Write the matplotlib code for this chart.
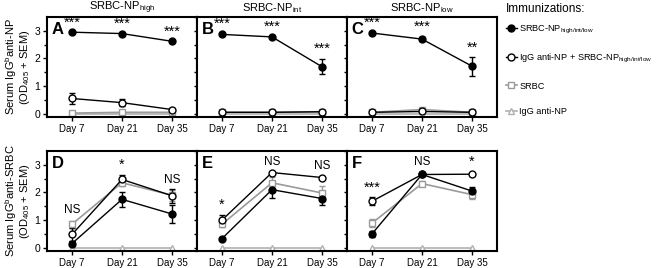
import matplotlib
matplotlib.use("Agg")
import matplotlib.pyplot as plt
from matplotlib.lines import Line2D
import numpy as np

plt.rcParams['font.family'] = ['Liberation Sans', 'DejaVu Sans']
plt.rcParams['mathtext.default'] = 'regular'

days = ["Day 7", "Day 21", "Day 35"]
panel_letters = ["A", "B", "C", "D", "E", "F"]
col_titles = ["SRBC-NP$_{high}$", "SRBC-NP$_{int}$", "SRBC-NP$_{low}$"]
series_labels = ["SRBC-NP$_{high/int/low}$", "IgG anti-NP + SRBC-NP$_{high/int/low}$",
                 "SRBC", "IgG anti-NP"]

# means per panel (A..F)
filled_mean = [[2.95, 2.90, 2.62], [2.87, 2.78, 1.70], [2.92, 2.70, 1.72],
               [0.15, 1.75, 1.22], [0.33, 2.10, 1.78], [0.50, 2.65, 2.05]]
filled_err = [[0.03, 0.03, 0.04], [0.03, 0.03, 0.28], [0.03, 0.08, 0.35],
              [0.08, 0.27, 0.33], [0.05, 0.30, 0.25], [0.10, 0.05, 0.15]]
open_mean = [[0.55, 0.40, 0.15], [0.05, 0.05, 0.07], [0.05, 0.08, 0.05],
             [0.48, 2.47, 1.88], [1.00, 2.72, 2.54], [1.68, 2.65, 2.66]]
open_err = [[0.20, 0.12, 0.04], [0.02, 0.02, 0.02], [0.02, 0.02, 0.02],
            [0.25, 0.15, 0.25], [0.20, 0.03, 0.03], [0.15, 0.05, 0.04]]
sq_mean = [[0.02, 0.05, 0.05], [0.05, 0.05, 0.07], [0.05, 0.15, 0.05],
           [0.85, 2.35, 1.90], [0.85, 2.35, 1.98], [0.89, 2.32, 1.92]]
sq_err = [[0.02, 0.03, 0.03], [0.02, 0.02, 0.02], [0.02, 0.04, 0.02],
          [0.12, 0.10, 0.20], [0.10, 0.20, 0.25], [0.15, 0.10, 0.15]]
tri_mean = [[0.0, 0.0, 0.0], [0.0, 0.0, 0.0], [0.0, 0.0, 0.0],
            [0.0, 0.0, 0.0], [0.0, 0.0, 0.0], [0.0, 0.0, 0.0]]

# significance annotations per panel: (day index, y, text)
annotations = [
    [(0, 3.05, "***"), (1, 3.00, "***"), (2, 2.72, "***")],
    [(0, 3.00, "***"), (1, 2.90, "***"), (2, 2.08, "***")],
    [(0, 3.02, "***"), (1, 2.88, "***"), (2, 2.15, "**")],
    [(0, 1.15, "NS"), (1, 2.75, "*"), (2, 2.25, "NS")],
    [(0, 1.30, "*"), (1, 2.90, "NS"), (2, 2.75, "NS")],
    [(0, 1.90, "***"), (1, 2.90, "NS"), (2, 2.85, "*")],
]

W, H = 660, 268
fig = plt.figure(figsize=(6.6, 2.68), dpi=100)

GRAY_SQ = "#9a9a9a"
GRAY_TRI = "#b0b0b0"
x = np.arange(3)

def px(l, t, w, h):
    return [l / W, 1 - (t + h) / H, w / W, h / H]

axes = []
for r in range(2):
    for c in range(3):
        top = 17 if r == 0 else 151
        ax = fig.add_axes(px(47 + 150 * c, top, 150, 100))
        axes.append(ax)

for i, ax in enumerate(axes):
    ax.errorbar(x, tri_mean[i], color=GRAY_TRI, marker="^", mfc="white", mec=GRAY_TRI,
                ms=5, lw=1.2, mew=1)
    ax.errorbar(x, sq_mean[i], yerr=sq_err[i], color=GRAY_SQ, marker="s", mfc="white",
                mec=GRAY_SQ, ms=5, lw=1.2, mew=1, capsize=2.5, elinewidth=1)
    ax.errorbar(x, open_mean[i], yerr=open_err[i], color="black", marker="o", mfc="white",
                mec="black", ms=5, lw=1, mew=1, capsize=2.5, elinewidth=1)
    ax.errorbar(x, filled_mean[i], yerr=filled_err[i], color="black", marker="o",
                mfc="black", mec="black", ms=5, lw=1, mew=1, capsize=2.5, elinewidth=1)
    ax.set_xlim(-0.5, 2.5)
    ax.set_ylim(-0.12, 3.5)
    ax.set_xticks(x)
    ax.set_xticklabels(days, fontsize=7)
    for s in ax.spines.values():
        s.set_linewidth(1.5)
    ax.tick_params(axis="x", length=3, width=1, pad=2)
    if i % 3 == 0:
        ax.set_yticks([0, 1, 2, 3])
        ax.set_yticks([0.5, 1.5, 2.5], minor=True)
        ax.tick_params(axis="y", which="major", length=3, width=1, labelsize=7.5, pad=2)
        ax.tick_params(axis="y", which="minor", length=2, width=1)
    else:
        ax.set_yticks([0, 0.5, 1, 1.5, 2, 2.5, 3, 3.5])
        ax.tick_params(axis="y", length=2, width=1, labelleft=False)
    ax.text(0.03, 0.95, panel_letters[i], transform=ax.transAxes, fontsize=12,
            fontweight="bold", va="top", ha="left")
    for (d, yy, t) in annotations[i]:
        ax.text(d, yy, t, ha="center", va="bottom", fontsize=10.5 if t != "NS" else 8.5)

for c in range(3):
    fig.text((47 + 150 * c + 75) / W, 1 - 8 / H, col_titles[c], ha="center", va="center",
             fontsize=8)

fig.text(11 / W, 1 - 67 / H, "Serum IgG$^{b}$anti-NP", rotation=90, ha="center",
         va="center", fontsize=8)
fig.text(25 / W, 1 - 67 / H, "(OD$_{405}$ + SEM)", rotation=90, ha="center",
         va="center", fontsize=8)
fig.text(11 / W, 1 - 201 / H, "Serum IgG$^{b}$anti-SRBC", rotation=90, ha="center",
         va="center", fontsize=8)
fig.text(25 / W, 1 - 201 / H, "(OD$_{405}$ + SEM)", rotation=90, ha="center",
         va="center", fontsize=8)

fig.text(506 / W, 1 - 9 / H, "Immunizations:", ha="left", va="center", fontsize=8.5)

handles = [
    Line2D([], [], color="black", marker="o", mfc="black", ms=5, lw=1),
    Line2D([], [], color="black", marker="o", mfc="white", ms=5, lw=1),
    Line2D([], [], color=GRAY_SQ, marker="s", mfc="white", ms=5, lw=1.2),
    Line2D([], [], color=GRAY_TRI, marker="^", mfc="white", ms=5, lw=1.2),
]
leg = fig.legend(handles, series_labels, loc="upper left",
                 bbox_to_anchor=(500 / W, 1 - 17 / H), frameon=False, fontsize=6.6,
                 handlelength=1.1, handletextpad=0.3, labelspacing=1.8,
                 borderpad=0.2)

fig.savefig("out.png", dpi=100)
